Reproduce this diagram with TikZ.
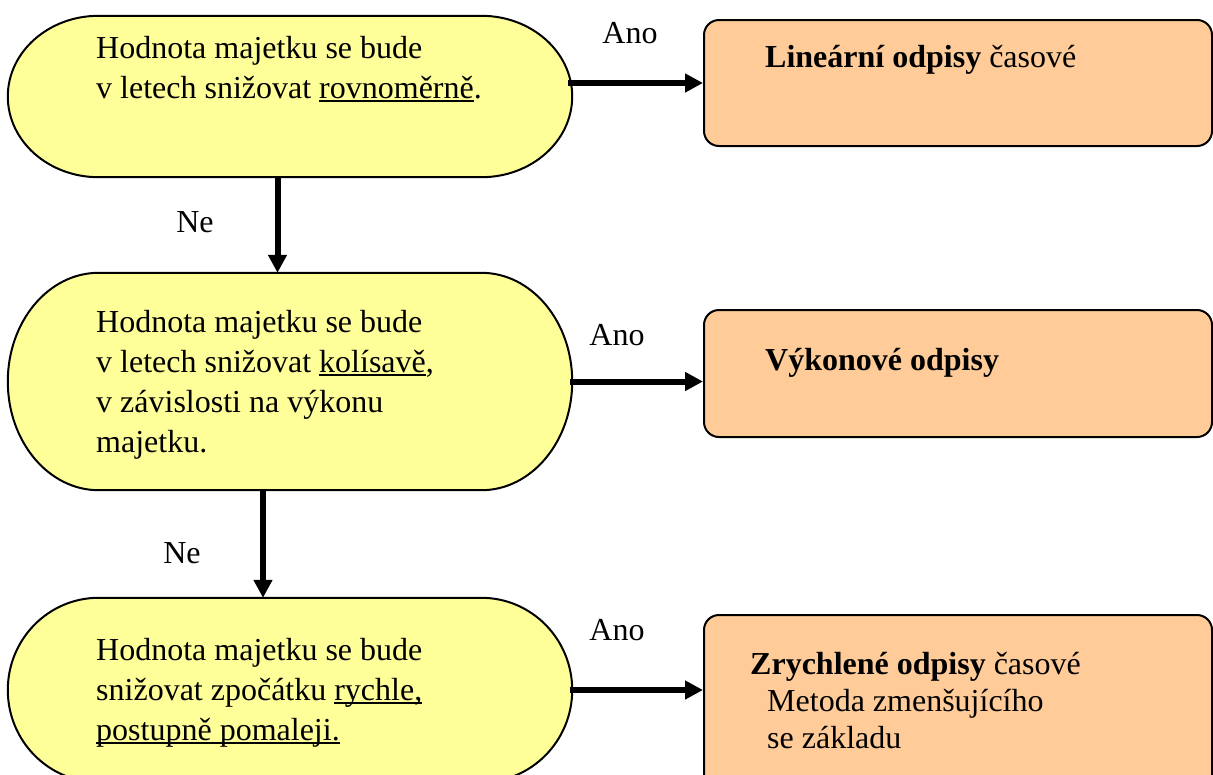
\documentclass[tikz,border=0pt]{standalone}
\usepackage{fontspec}
\setmainfont{Liberation Serif}
\usetikzlibrary{calc,arrows.meta}
\definecolor{termyellow}{HTML}{FFFF99}
\definecolor{resorange}{HTML}{FFCC99}
% underline drawn at a fixed depth below the baseline
\newcommand\ulword[1]{\setbox0\hbox{#1}\rlap{\rule[-3.5pt]{\wd0}{1.9pt}}\box0}
% terminator outline: straight top and bottom, elliptical end caps
\newcommand\termpath[1]{%
  \path[termshape] let \p1=(#1.north west), \p2=(#1.south east),
    \n1={0.1609*(\x2-\x1)}, \n2={(\y1-\y2)/2} in
    (\x1+\n1,\y1) -- (\x2-\n1,\y1)
    arc[start angle=90,end angle=-90,x radius=\n1,y radius=\n2]
    -- (\x1+\n1,\y2)
    arc[start angle=270,end angle=90,x radius=\n1,y radius=\n2] -- cycle;}
\begin{document}
\begin{tikzpicture}[x=1pt,y=1pt,
  termbox/.style={rectangle, inner sep=0pt, minimum width=564pt},
  termshape/.style={fill=termyellow, draw=black, line width=2pt},
  resbox/.style={rectangle, rounded corners=15pt, fill=resorange, draw=black,
    line width=2pt, inner sep=0pt, minimum width=508pt},
  txt/.style={inner sep=0pt, anchor=north west, align=left,
    font=\fontsize{32}{40}\selectfont},
  restxt/.style={inner sep=0pt, anchor=north west, align=left,
    font=\fontsize{32}{37}\selectfont},
  lbl/.style={inner sep=0pt, anchor=base, font=\fontsize{32}{40}\selectfont},
  flow/.style={line width=6pt, -{Triangle[length=18pt,width=18pt]}}]
\useasboundingbox (0,0) rectangle (1213,-774);
\clip (0,0) rectangle (1213,-774);

% decision boxes
\node[termbox, minimum height=161pt] (q1) at (290,-96.5) {};
\node[termbox, minimum height=217pt] (q2) at (290,-381.5) {};
\node[termbox, minimum height=184pt] (q3) at (290,-690) {};
\termpath{q1}
\termpath{q2}
\termpath{q3}

% result boxes
\node[resbox, minimum height=126pt] (r1) at (958,-83) {};
\node[resbox, minimum height=127pt] (r2) at (958,-373.5) {};
\node[resbox, minimum height=185pt] (r3) at (958,-707.5) {};

% texts of the decision boxes
\node[txt] (t1) at (96,-30) {\strut Hodnota majetku se bude\\
  v letech snižovat \ulword{rovnoměrně}.};
\node[txt] (t2) at (96,-304) {\strut Hodnota majetku se bude\\
  v letech snižovat \ulword{kolísavě},\\
  v závislosti na výkonu\\
  majetku.};
\node[txt] (t3) at (96,-632) {\strut Hodnota majetku se bude\\
  snižovat zpočátku \ulword{rychle,}\\
  \ulword{postupně pomaleji.}};

% texts of the result boxes
\node[restxt] (s1) at (765,-41) {\strut\textbf{Lineární odpisy} časové};
\node[restxt] (s2) at (765,-344) {\strut\textbf{Výkonové odpisy}};
\node[restxt] (s3) at (750,-648) {\strut\textbf{Zrychlené odpisy} časové\\
  \hspace*{17pt}Metoda zmenšujícího\\
  \hspace*{17pt}se základu};

% connectors
\draw[flow, shorten <=-4pt] (r1.west -| q1.east) -- (r1.west);
\draw[flow, shorten <=-2pt] (q2.east) -- (q2.east -| r2.west);
\draw[flow, shorten <=-2pt] (q3.east) -- (q3.east -| r3.west);
\draw[flow] ([xshift=-12.5pt]q1.south) -- ([xshift=-12.5pt]q1.south |- q2.north);
\draw[flow] ([xshift=-27pt]q2.south) -- ([xshift=-27pt]q2.south |- q3.north);

% branch labels
\node[lbl] (a1) at (630,-43) {Ano};
\node[lbl] (a2) at (617,-345) {Ano};
\node[lbl] (a3) at (617,-640) {Ano};
\node[lbl] (n1) at (195,-232) {Ne};
\node[lbl] (n2) at (182,-563) {Ne};
\end{tikzpicture}
\end{document}
